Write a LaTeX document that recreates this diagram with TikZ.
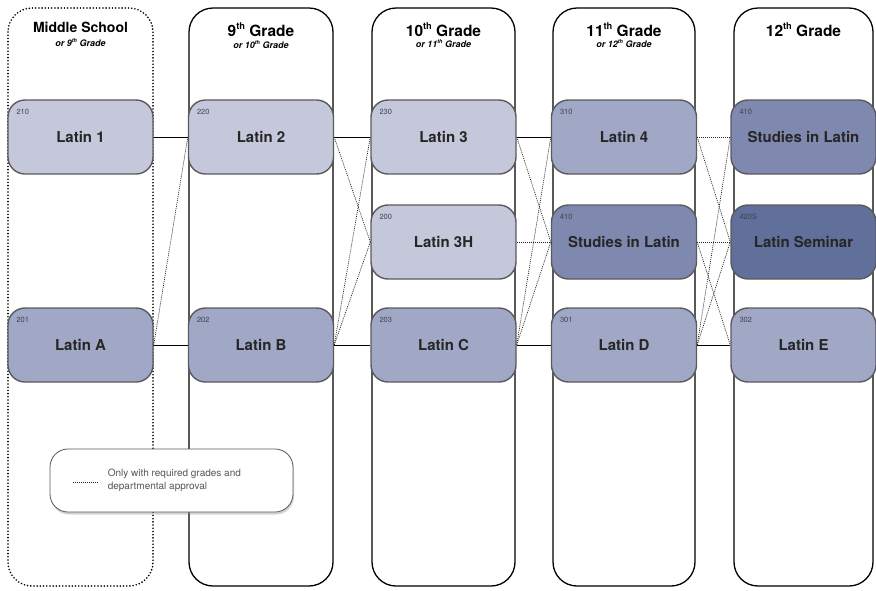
\documentclass[tikz,border=0pt]{standalone}
\usepackage{fontspec}
\setmainfont{TeX Gyre Heros}
\usetikzlibrary{shadows}
\definecolor{lvlone}{HTML}{C4C8DA}
\definecolor{lvltwo}{HTML}{A1A8C5}
\definecolor{lvlthree}{HTML}{7F89AF}
\definecolor{lvlfour}{HTML}{60709A}
\definecolor{rimgray}{HTML}{5A5A5E}
\definecolor{numgray}{HTML}{3E4250}
\definecolor{keygray}{HTML}{555555}

\begin{document}
\begin{tikzpicture}[x=1pt, y=-1pt, line join=round]

	\tikzstyle{column}=[draw=black, line width=1.3pt, rounded corners=24pt]
	\tikzstyle{course}=[draw=rimgray, line width=1.4pt, rounded corners=17pt,
	  minimum width=145pt, minimum height=74pt, inner sep=0pt,
	  font=\fontsize{15}{18}\selectfont\bfseries, text=black!85]
	\tikzstyle{grade}=[anchor=base, inner sep=0pt, font=\fontsize{15.5}{18}\selectfont\bfseries]
	\tikzstyle{subgrade}=[anchor=base, inner sep=0pt, font=\fontsize{9}{10}\selectfont\bfseries\itshape]
	\tikzstyle{num}=[anchor=base west, inner sep=0pt, text=numgray, font=\fontsize{7.5}{9}\selectfont]
	\tikzstyle{solidlink}=[draw=black, line width=0.8pt]
	\tikzstyle{optlink}=[draw=black!85, line width=0.7pt, dash pattern=on 1pt off 1pt]
	\def\top{8}
	\def\bot{586}
	\def\rowa{137}
	\def\rowb{242}
	\def\rowc{345}
	\def\ord#1{#1\raisebox{0.42em}{\scalebox{0.6}{th}}}
	% course box: name, x, y, colour, label, number
	\def\course#1#2#3#4#5#6{%
	  \node[course, fill=#4] (#1) at (#2,#3) {#5};
	  \node[num] (#1num) at ([xshift=9pt, yshift=-15pt]#1.north west) {#6};}

	\useasboundingbox (0,0) rectangle (876,590);

	% columns
	\draw[column, line width=1.8pt, line cap=round, dash pattern=on 0pt off 3.2pt] (8,\top) rectangle (153,\bot);
	\draw[column] (189,\top) rectangle (333,\bot);
	\draw[column] (372,\top) rectangle (515,\bot);
	\draw[column] (553,\top) rectangle (695,\bot);
	\draw[column] (734,\top) rectangle (873,\bot);

	\node[grade, font=\fontsize{14}{16}\selectfont\bfseries] (hms) at (80.5,32) {Middle School};
	\node[subgrade] (sms) at (80.5,46) {or \ord{9} Grade};
	\node[grade] (h9) at (261,36) {\ord{9} Grade};
	\node[subgrade] (s9) at (261,48) {or \ord{10} Grade};
	\node[grade] (h10) at (443.5,36) {\ord{10} Grade};
	\node[subgrade] (s10) at (443.5,47) {or \ord{11} Grade};
	\node[grade] (h11) at (624,36) {\ord{11} Grade};
	\node[subgrade] (s11) at (624,47) {or \ord{12} Grade};
	\node[grade] (h12) at (803.5,36) {\ord{12} Grade};

	% courses
	\course{msa}{80.5}{\rowa}{lvlone}{Latin 1}{210}
	\course{msb}{80.5}{\rowc}{lvltwo}{Latin A}{201}
	\course{g9a}{261}{\rowa}{lvlone}{Latin 2}{220}
	\course{g9b}{261}{\rowc}{lvltwo}{Latin B}{202}
	\course{g10a}{443.5}{\rowa}{lvlone}{Latin 3}{230}
	\course{g10h}{443.5}{\rowb}{lvlone}{Latin 3H}{200}
	\course{g10b}{443.5}{\rowc}{lvltwo}{Latin C}{203}
	\course{g11a}{624}{\rowa}{lvltwo}{Latin 4}{310}
	\course{g11s}{624}{\rowb}{lvlthree}{Studies in Latin}{410}
	\course{g11b}{624}{\rowc}{lvltwo}{Latin D}{301}
	\course{g12a}{803.5}{\rowa}{lvlthree}{Studies in Latin}{410}
	\course{g12s}{803.5}{\rowb}{lvlfour}{Latin Seminar}{420S}
	\course{g12b}{803.5}{\rowc}{lvltwo}{Latin E}{302}

	% links
	\draw[solidlink] (msa.east) -- (g9a.west);
	\draw[solidlink] (msb.east) -- (g9b.west);
	\draw[optlink] (msb.east) -- (g9a.west);

	\draw[solidlink] (g9a.east) -- (g10a.west);
	\draw[solidlink] (g9b.east) -- (g10b.west);
	\draw[optlink] (g9a.east) -- (g10h.west);
	\draw[optlink] (g9b.east) -- (g10a.west);
	\draw[optlink] (g9b.east) -- (g10h.west);

	\draw[solidlink] (g10a.east) -- (g11a.west);
	\draw[solidlink] (g10b.east) -- (g11b.west);
	\draw[optlink] (g10a.east) -- (g11s.west);
	\draw[optlink] (g10h.east) -- (g11s.west);
	\draw[optlink] (g10b.east) -- (g11a.west);
	\draw[optlink] (g10b.east) -- (g11s.west);

	\draw[optlink] (g11a.east) -- (g12a.west);
	\draw[optlink] (g11a.east) -- (g12s.west);
	\draw[optlink] (g11s.east) -- (g12s.west);
	\draw[optlink] (g11s.east) -- (g12b.west);
	\draw[optlink] (g11b.east) -- (g12a.west);
	\draw[optlink] (g11b.east) -- (g12s.west);
	\draw[solidlink] (g11b.east) -- (g12b.west);

	% key
	\node[draw=black!65, line width=0.8pt, fill=white, rounded corners=18pt,
	  minimum width=243pt, minimum height=63pt,
	  drop shadow={shadow xshift=1pt, shadow yshift=-2.5pt, opacity=0.35}] (key) at (171.5,480.5) {};
	\draw[optlink] ([xshift=23pt, yshift=-1.5pt]key.west) -- ([xshift=48pt, yshift=-1.5pt]key.west);
	\node[anchor=west, align=left, inner sep=0pt, text=keygray,
	  font=\fontsize{10}{13}\selectfont] (keytext) at ([xshift=58pt]key.west)
	  {Only with required grades and\\departmental approval};

\end{tikzpicture}
\end{document}
